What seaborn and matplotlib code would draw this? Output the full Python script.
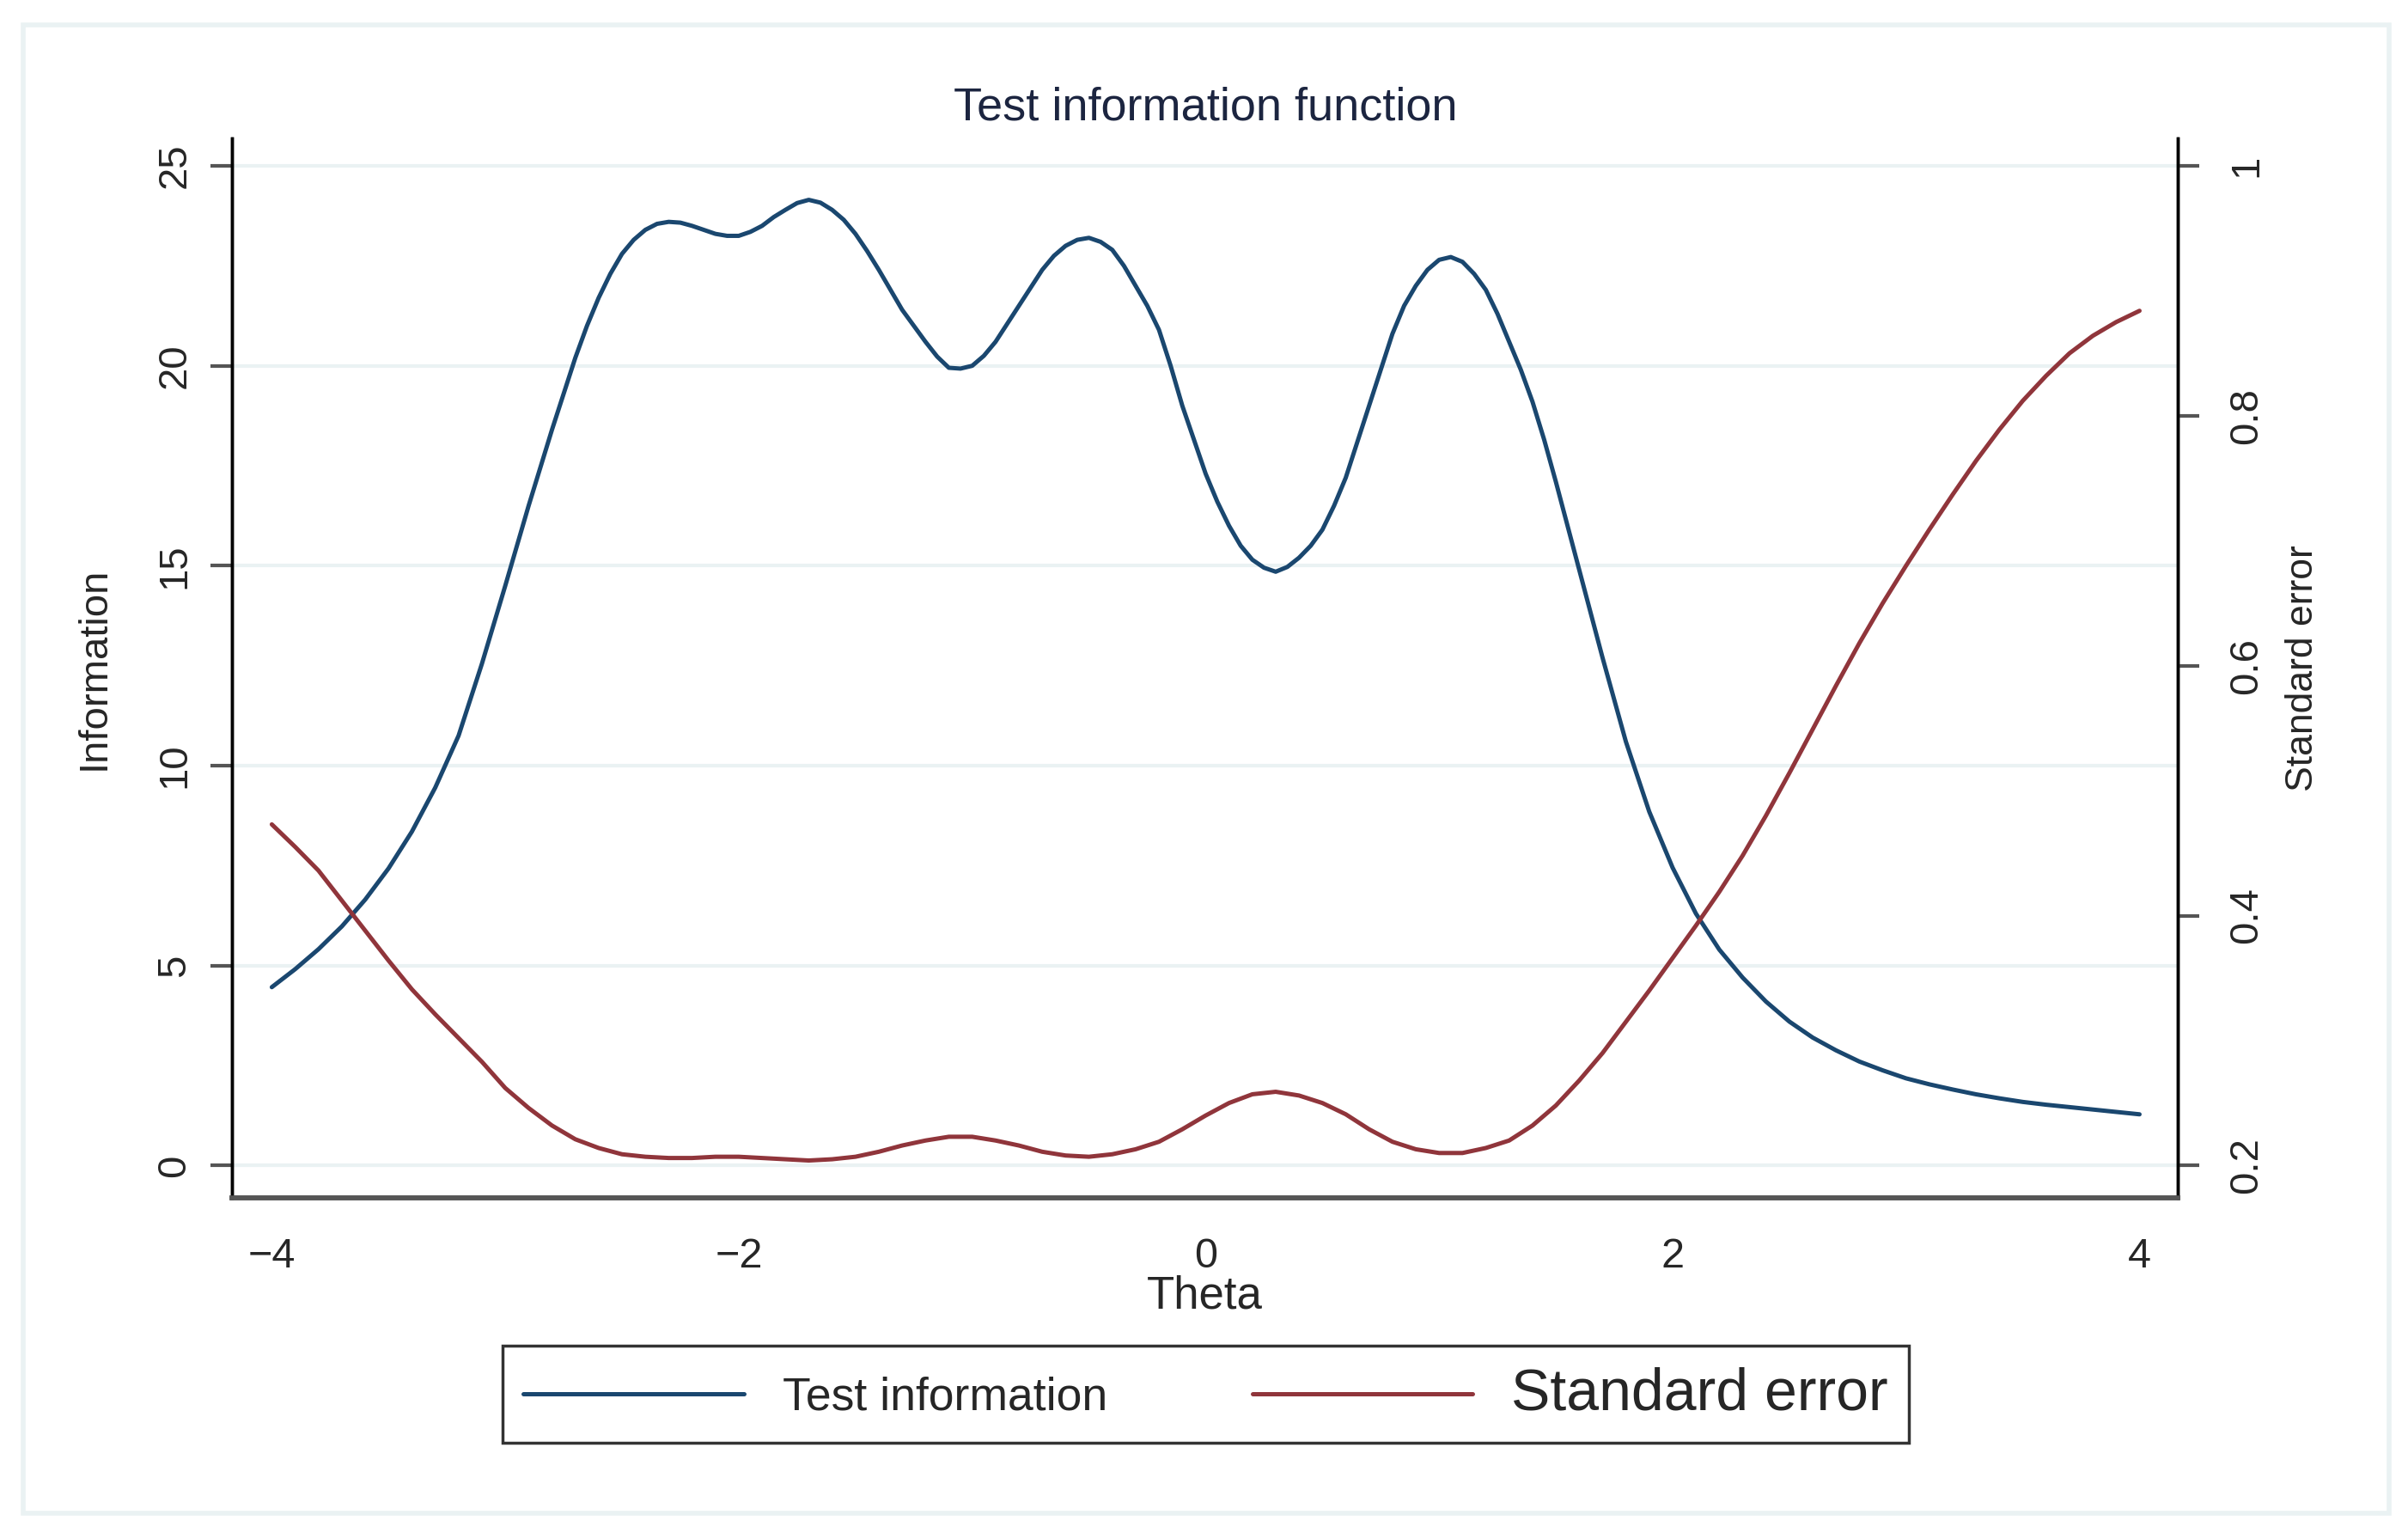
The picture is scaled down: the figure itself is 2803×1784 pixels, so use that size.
import numpy as np
import pandas as pd
import matplotlib
matplotlib.use("Agg")
import matplotlib.pyplot as plt
import seaborn as sns
from matplotlib.patches import Rectangle

# test information (denser around the peaks)
info_theta = [
    -4.0, -3.9, -3.8, -3.7, -3.6, -3.5, -3.4, -3.3, -3.2, -3.1,
    -3.0, -2.9, -2.8, -2.7, -2.65, -2.6, -2.55, -2.5, -2.45, -2.4,
    -2.35, -2.3, -2.25, -2.2, -2.15, -2.1, -2.05, -2.0, -1.95, -1.9,
    -1.85, -1.8, -1.75, -1.7, -1.65, -1.6, -1.55, -1.5, -1.45, -1.4,
    -1.3, -1.2, -1.15, -1.1, -1.05, -1.0, -0.95, -0.9, -0.85, -0.8,
    -0.7, -0.65, -0.6, -0.55, -0.5, -0.45, -0.4, -0.35, -0.3, -0.25,
    -0.2, -0.15, -0.1, 0.0, 0.05, 0.1, 0.15, 0.2, 0.25, 0.3,
    0.35, 0.4, 0.45, 0.5, 0.55, 0.6, 0.65, 0.7, 0.75, 0.8,
    0.85, 0.9, 0.95, 1.0, 1.05, 1.1, 1.15, 1.2, 1.25, 1.3,
    1.35, 1.4, 1.45, 1.5, 1.55, 1.6, 1.7, 1.8, 1.9, 2.0,
    2.1, 2.2, 2.3, 2.4, 2.5, 2.6, 2.7, 2.8, 2.9, 3.0,
    3.1, 3.2, 3.3, 3.4, 3.5, 3.6, 3.7, 3.8, 3.9, 4.0,
]
information = [
    4.46, 4.91, 5.41, 5.98, 6.65, 7.43, 8.35, 9.45, 10.75, 12.55,
    14.5, 16.5, 18.4, 20.2, 21.0, 21.7, 22.3, 22.8, 23.15, 23.4,
    23.55, 23.6, 23.58, 23.5, 23.4, 23.3, 23.25, 23.25, 23.35, 23.5,
    23.72, 23.9, 24.07, 24.15, 24.08, 23.9, 23.65, 23.3, 22.87, 22.4,
    21.4, 20.6, 20.23, 19.95, 19.93, 20.0, 20.25, 20.6, 21.05, 21.5,
    22.4, 22.75, 23.0, 23.15, 23.2, 23.1, 22.9, 22.5, 22.0, 21.5,
    20.9, 20.0, 19.0, 17.3, 16.6, 16.0, 15.5, 15.15, 14.95, 14.85,
    14.97, 15.2, 15.5, 15.9, 16.5, 17.2, 18.1, 19.0, 19.9, 20.8,
    21.5, 22.0, 22.4, 22.65, 22.72, 22.6, 22.3, 21.9, 21.3, 20.6,
    19.9, 19.1, 18.15, 17.1, 16.0, 14.9, 12.7, 10.6, 8.85, 7.45,
    6.3, 5.4, 4.7, 4.1, 3.6, 3.2, 2.88, 2.6, 2.38, 2.18,
    2.03, 1.9, 1.78, 1.68, 1.59, 1.52, 1.46, 1.4, 1.34, 1.28,
]

# standard error
se_theta = [
    -4.0, -3.9, -3.8, -3.7, -3.6, -3.5, -3.4, -3.3, -3.2, -3.1,
    -3.0, -2.9, -2.8, -2.7, -2.6, -2.5, -2.4, -2.3, -2.2, -2.1,
    -2.0, -1.9, -1.8, -1.7, -1.6, -1.5, -1.4, -1.3, -1.2, -1.1,
    -1.0, -0.9, -0.8, -0.7, -0.6, -0.5, -0.4, -0.3, -0.2, -0.1,
    0.0, 0.1, 0.2, 0.3, 0.4, 0.5, 0.6, 0.7, 0.8, 0.9,
    1.0, 1.1, 1.2, 1.3, 1.4, 1.5, 1.6, 1.7, 1.8, 1.9,
    2.0, 2.1, 2.2, 2.3, 2.4, 2.5, 2.6, 2.7, 2.8, 2.9,
    3.0, 3.1, 3.2, 3.3, 3.4, 3.5, 3.6, 3.7, 3.8, 3.9, 4.0,
]
std_error = [
    0.473, 0.455, 0.436, 0.412, 0.388, 0.364, 0.341, 0.321, 0.302, 0.283,
    0.262, 0.246, 0.232, 0.221, 0.214, 0.209, 0.207, 0.206, 0.206, 0.207,
    0.207, 0.206, 0.205, 0.204, 0.205, 0.207, 0.211, 0.216, 0.220, 0.223,
    0.223, 0.220, 0.216, 0.211, 0.208, 0.207, 0.209, 0.213, 0.219, 0.229,
    0.240, 0.250, 0.257, 0.259, 0.256, 0.250, 0.241, 0.229, 0.219, 0.213,
    0.210, 0.210, 0.214, 0.220, 0.232, 0.248, 0.268, 0.290, 0.315, 0.340,
    0.366, 0.392, 0.419, 0.448, 0.480, 0.514, 0.549, 0.584, 0.618, 0.650,
    0.680, 0.709, 0.737, 0.764, 0.789, 0.812, 0.832, 0.850, 0.864, 0.875, 0.884,
]

x_ticks = [-4, -2, 0, 2, 4]
x_ticklabels = ["\u22124", "\u22122", "0", "2", "4"]
info_ticks = [0, 5, 10, 15, 20, 25]
se_ticks = [0.2, 0.4, 0.6, 0.8, 1.0]
se_ticklabels = ["0.2", "0.4", "0.6", "0.8", "1"]

navy = "#1a476f"
maroon = "#90353b"
grid_col = "#eaf2f3"

df_info = pd.DataFrame({"theta": info_theta, "info": information})
df_se = pd.DataFrame({"theta": se_theta, "se": std_error})

sns.set_style("white")
plt.rcParams["font.family"] = ["Liberation Sans", "DejaVu Sans"]

fig = plt.figure(figsize=(28.03, 17.84), dpi=100)
fig.patch.set_facecolor("white")

# light outer frame like stata's graph region
fig.patches.append(Rectangle((0.0098, 0.013), 0.9822, 0.9706, transform=fig.transFigure,
                             fill=False, edgecolor=grid_col, linewidth=4))

ax = fig.add_axes([0.0963, 0.2186, 0.8081, 0.6912])
ax2 = ax.twinx()

sns.lineplot(data=df_info, x="theta", y="info", ax=ax, color=navy, linewidth=3.6,
             label="Test information", legend=False, solid_joinstyle="round")
sns.lineplot(data=df_se, x="theta", y="se", ax=ax2, color=maroon, linewidth=3.6,
             label="Standard error", legend=False, solid_joinstyle="round")

ax.set_xlim(-4.171, 4.164)
ax.set_ylim(-0.81, 25.69)
ax2.set_ylim(0.2 + 0.032 * -0.81, 0.2 + 0.032 * 25.69)

for v in info_ticks:
    ax.axhline(v, color=grid_col, linewidth=3, zorder=0)

ax.set_xticks(x_ticks)
ax.set_xticklabels(x_ticklabels, fontsize=35)
ax.set_yticks(info_ticks)
ax.set_yticklabels([str(v) for v in info_ticks], fontsize=34, rotation=90, va="center")
ax2.set_yticks(se_ticks)
ax2.set_yticklabels(se_ticklabels, fontsize=34, rotation=90, va="center")

ax.tick_params(axis="x", length=22, width=1.5, color="black", pad=11)
ax.tick_params(axis="y", length=18, width=3, color="#555555", pad=14)
ax2.tick_params(axis="y", length=18, width=3, color="#555555", pad=24)

for a in (ax, ax2):
    a.spines["top"].set_visible(False)
    a.spines["left"].set_color("black")
    a.spines["left"].set_linewidth(2.5)
    a.spines["right"].set_color("black")
    a.spines["right"].set_linewidth(2.5)
    a.spines["bottom"].set_color("#555555")
    a.spines["bottom"].set_linewidth(4)

ax.set_xlabel("Theta", fontsize=38, labelpad=-1)
ax.set_ylabel("Information", fontsize=34, labelpad=36)
ax2.set_ylabel("Standard error", fontsize=32, labelpad=16)

fig.text(0.5005, 0.9295, "Test information function", fontsize=39, color="#1c2540",
         ha="center", va="center")

handles = ax.get_lines()[:1] + ax2.get_lines()[:1]
leg = fig.legend(handles, ["Test information", "Standard error"], loc="center",
                 bbox_to_anchor=(0.2087, 0.0600, 0.584, 0.0611), mode="expand",
                 ncol=2, fontsize=38.5,
                 handlelength=4.8, handletextpad=0.84, columnspacing=2.3,
                 borderpad=0.45, borderaxespad=0, frameon=True, fancybox=False)
leg.get_frame().set_edgecolor("black")
leg.get_frame().set_linewidth(2.5)
leg.get_texts()[1].set_fontsize(49)
for line in leg.get_lines():
    line.set_linewidth(3.6)

fig.savefig("out.png", dpi=100, facecolor="white")
